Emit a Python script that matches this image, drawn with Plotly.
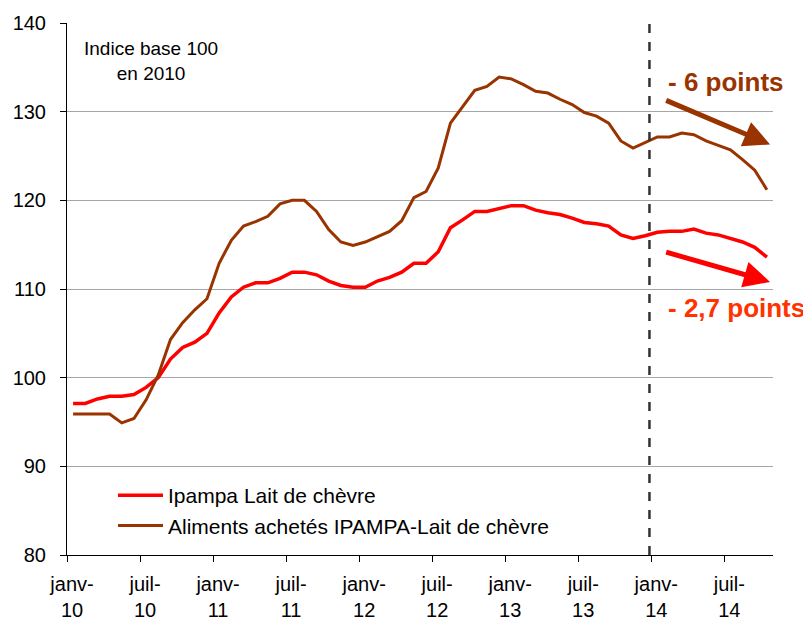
import plotly.graph_objects as go

months = ["janv", "févr", "mars", "avr", "mai", "juin", "juil", "août", "sept", "oct", "nov", "déc"]
categories = [f"{m}-{y}" for y in range(10, 15) for m in months][:58]

ipampa_lait = [97.1, 97.1, 97.6, 97.9, 97.9, 98.1, 98.9, 100.0, 102.1, 103.4,
               104.0, 105.0, 107.3, 109.1, 110.2, 110.7, 110.7, 111.2, 111.9, 111.9,
               111.6, 110.9, 110.4, 110.2, 110.2, 110.9, 111.3, 111.9, 112.9, 112.9,
               114.2, 116.9, 117.8, 118.75, 118.75, 119.1, 119.4, 119.4, 118.9, 118.6,
               118.4, 118.0, 117.5, 117.35, 117.1, 116.1, 115.7, 116.0, 116.4, 116.5,
               116.5, 116.75, 116.3, 116.1, 115.7, 115.3, 114.7, 113.6]

aliments = [95.9, 95.9, 95.9, 95.9, 94.9, 95.4, 97.5, 100.3, 104.3, 106.2,
            107.65, 108.9, 112.9, 115.5, 117.1, 117.6, 118.2, 119.6, 120.0, 120.0,
            118.75, 116.7, 115.3, 114.9, 115.3, 115.9, 116.5, 117.7, 120.3, 121.0,
            123.65, 128.7, 130.6, 132.4, 132.85, 133.9, 133.7, 133.05, 132.3, 132.1,
            131.4, 130.8, 129.9, 129.5, 128.7, 126.7, 125.9, 126.5, 127.15, 127.15,
            127.6, 127.4, 126.7, 126.2, 125.7, 124.6, 123.4, 121.2]

tick_labels = ["janv-<br>10", "juil-<br>10", "janv-<br>11", "juil-<br>11", "janv-<br>12",
               "juil-<br>12", "janv-<br>13", "juil-<br>13", "janv-<br>14", "juil-<br>14"]

x = list(range(len(categories)))
BROWN = "#993300"
RED = "#FF0000"
FONT = "Liberation Sans, Arial, sans-serif"

fig = go.Figure()
fig.add_trace(go.Scatter(x=x, y=ipampa_lait, mode="lines", name="Ipampa Lait de chèvre",
                         line=dict(color=RED, width=3.5), customdata=categories))
fig.add_trace(go.Scatter(x=x, y=aliments, mode="lines",
                         name="Aliments achetés IPAMPA-Lait de chèvre",
                         line=dict(color=BROWN, width=3), customdata=categories))

# vertical dashed separator (start of 2014)
fig.add_shape(type="line", xref="x", yref="paper", x0=47.35, x1=47.35, y0=0, y1=1,
              line=dict(color="#333333", width=2.5, dash="dash"))

# arrows
fig.add_annotation(x=57.26, y=126.3, ax=48.6, ay=131.35, xref="x", yref="y",
                   axref="x", ayref="y", showarrow=True, arrowhead=2, arrowsize=1.05,
                   arrowwidth=5, arrowcolor=BROWN, text="")
fig.add_annotation(x=57.26, y=110.8, ax=48.6, ay=114.2, xref="x", yref="y",
                   axref="x", ayref="y", showarrow=True, arrowhead=2, arrowsize=1.05,
                   arrowwidth=5, arrowcolor=RED, text="")

# texts (positions given in screen pixels, converted below)
fig.add_annotation(x=666, y=82, xref="paper", yref="paper", text="<b>- 6 points</b>",
                   showarrow=False, font=dict(family=FONT, size=26, color=BROWN),
                   xanchor="left", yanchor="middle")
fig.add_annotation(x=666, y=308, xref="paper", yref="paper", text="<b>- 2,7 points</b>",
                   showarrow=False, font=dict(family=FONT, size=26, color="#FF3300"),
                   xanchor="left", yanchor="middle")
fig.add_annotation(x=151, y=61, xref="paper", yref="paper",
                   text="Indice base 100<br>en 2010", showarrow=False, align="center",
                   font=dict(family=FONT, size=19, color="#000000"),
                   xanchor="center", yanchor="middle")

# page body has an 8px margin: compensate so plot area sits at screen 67..773, 23..555
OFF = 8
W, H = 811 - OFF, 626 - OFF
L, T = 67 - OFF, 23 - OFF
R = W - (773 - OFF)
B = H - (555 - OFF)
pw, ph = W - L - R, H - T - B
for ann in fig.layout.annotations:
    if ann.xref == "paper":
        ann.x = (ann.x - 67) / pw
        ann.y = (555 - ann.y) / ph

fig.update_layout(
    width=W, height=H,
    margin=dict(l=L, r=R, t=T, b=B, autoexpand=False),
    paper_bgcolor="white", plot_bgcolor="white",
    font=dict(family=FONT, size=20, color="#000000"),
    showlegend=True,
    legend=dict(x=(113 - 67) / pw, y=(555 - 475) / ph, xanchor="left", yanchor="top",
                bgcolor="rgba(0,0,0,0)", font=dict(family=FONT, size=21),
                itemwidth=45),
    xaxis=dict(range=[-0.5, 57.5], tickmode="array",
               tickvals=[-0.5 + 6 * k for k in range(len(tick_labels))],
               ticktext=tick_labels, ticks="outside", ticklen=6, tickcolor="#000000",
               showline=True, linecolor="#000000", linewidth=1, showgrid=False,
               zeroline=False, ticklabelshift=5, ticklabelstandoff=5,
               tickfont=dict(size=20)),
    yaxis=dict(range=[80, 140], tickvals=[80, 90, 100, 110, 120, 130, 140],
               ticks="outside", ticklen=6, tickcolor="#000000",
               showline=True, linecolor="#000000", linewidth=1,
               showgrid=True, gridcolor="#A6A6A6", gridwidth=1, zeroline=False,
               ticklabelstandoff=10, tickfont=dict(size=20)),
)

fig.write_html("out.html")
